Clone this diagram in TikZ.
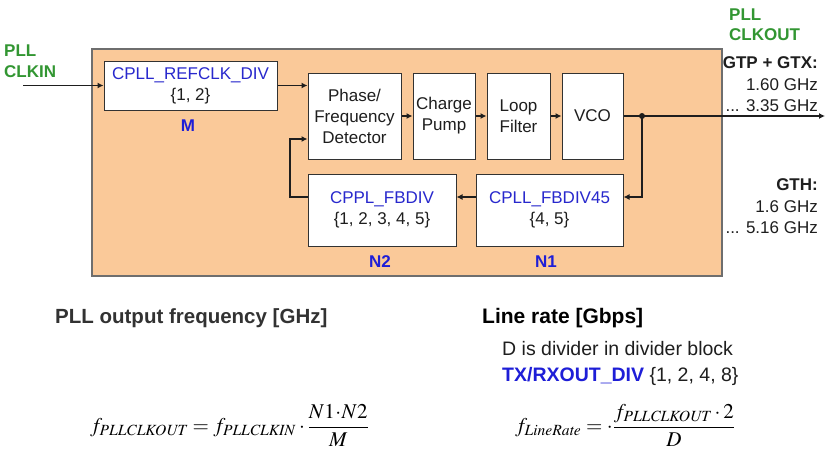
\documentclass[tikz,border=0pt]{standalone}
\usepackage{mathptmx}
\usepackage[no-math]{fontspec}
\setmainfont{Liberation Sans}
\usetikzlibrary{arrows.meta}
\definecolor{orfill}{RGB}{250,201,153}
\definecolor{orline}{RGB}{110,110,110}
\definecolor{boxline}{RGB}{50,50,50}
\definecolor{txt}{RGB}{30,30,30}
\definecolor{bl}{RGB}{40,40,205}
\definecolor{blb}{RGB}{30,30,215}
\definecolor{grn}{RGB}{50,150,50}
\definecolor{hdr}{RGB}{50,50,50}
\newcommand\blockfont{\fontsize{17}{21}\selectfont}
\newcommand\labfont{\fontsize{17}{21}\selectfont\bfseries}
\begin{document}
\begin{tikzpicture}[x=1pt,y=-1pt,
  blk/.style={draw=boxline, fill=white, line width=1pt, inner sep=0pt, align=center, font=\blockfont, text=txt},
  lab/.style={font=\labfont, text=blb, inner sep=0pt},
  ln/.style={line width=1.6pt, draw=txt},
  arr/.style={ln, -{Latex[length=6pt,width=6pt]}},
  side/.style={font=\blockfont, text=txt, inner sep=0pt},
]
\useasboundingbox (0,0) rectangle (829,461);
\fill[white] (0,0) rectangle (829,461);

% PLL area
\node[draw=orline, fill=orfill, line width=1.2pt, minimum width=630pt, minimum height=227pt, inner sep=0pt] (pll) at (407,162.5) {};

% blocks
\node[blk, minimum width=173pt, minimum height=49pt] (refdiv) at (190.5,85.5) {\textcolor{bl}{CPLL\_REFCLK\_DIV}\\\{1, 2\}};
\node[blk, minimum width=93pt, minimum height=86pt] (pfd) at (354.5,116) {Phase/\\Frequency\\Detector};
\node[blk, minimum width=62pt, minimum height=86pt] (cp) at (444,116) {Charge\\Pump};
\node[blk, minimum width=63pt, minimum height=86pt] (lf) at (518.5,116) {Loop\\Filter};
\node[blk, minimum width=61pt, minimum height=86pt] (vco) at (592.5,116) {VCO};
\node[blk, minimum width=148pt, minimum height=72pt] (fbdiv) at (382,210) {\textcolor{bl}{CPPL\_FBDIV}\\\{1, 2, 3, 4, 5\}};
\node[blk, minimum width=147pt, minimum height=72pt] (fbdiv45) at (549.5,210) {\textcolor{bl}{CPLL\_FBDIV45}\\\{4, 5\}};

% block labels
\node[lab] (m) at (188,126) {M};
\node[lab] (n2) at (380,262) {N2};
\node[lab] (n1) at (546,262) {N1};

% signal labels
\node[side, text=grn, font=\labfont, align=left, anchor=west] (clkin) at (4,61.5) {PLL\\CLKIN};
\node[side, text=grn, font=\fontsize{17}{19.5}\selectfont\bfseries, align=left, anchor=west] (clkout) at (729,24.5) {PLL\\CLKOUT};
\node[side, align=right, anchor=east, font=\fontsize{17}{21.5}\selectfont] (gtx) at (818,84.5) {\textbf{GTP + GTX:}\\1.60 GHz\\... 3.35 GHz};
\node[side, align=right, anchor=east, font=\fontsize{17}{21.5}\selectfont] (gth) at (818,206.5) {\textbf{GTH:}\\1.6 GHz\\... 5.16 GHz};

% connectors
\coordinate (in) at (23,85.5);
\draw[arr] (in) -- (refdiv.west);
\draw[arr] (refdiv.east) -- (refdiv.east -| pfd.west);
\draw[arr] (pfd.east) -- (cp.west);
\draw[arr] (cp.east) -- (lf.west);
\draw[arr] (lf.east) -- (vco.west);
\coordinate (dot) at (642,116);
\coordinate (out) at (825,116);
\draw[ln] (vco.east) -- (dot);
\draw[arr] (dot) -- (out);
\coordinate (fby) at (0,197);
\draw[arr] (dot) |- (fbdiv45.east |- fby);
\draw[arr] (fbdiv45.west |- fby) -- (fbdiv.east |- fby);
\coordinate (lx) at (290,139);
\draw[arr] (fbdiv.west |- fby) -| (lx) -- (pfd.west |- lx);
\fill[txt] (dot) circle (3pt);

% bottom texts
\node[anchor=west, inner sep=0pt, text=hdr, font=\fontsize{20.5}{24}\selectfont\bfseries] (h1) at (55,318) {PLL output frequency [GHz]};
\node[anchor=west, inner sep=0pt, text=black, font=\fontsize{21}{24}\selectfont\bfseries] (h2) at (482,318) {Line rate [Gbps]};
\node[anchor=west, inner sep=0pt, text=txt, font=\fontsize{19.5}{23}\selectfont] (d1) at (502,349) {D is divider in divider block};
\node[anchor=west, inner sep=0pt, text=txt, font=\fontsize{19.5}{23}\selectfont] (d2) at (502,376) {\textcolor{blb}{\textbf{TX/RXOUT\_DIV}} \{1, 2, 4, 8\}};

\node[anchor=base west, inner sep=0pt, text=black, font=\fontsize{21}{25}\selectfont] (f1) at (90,432.5)
  {$\displaystyle f_{\mathit{PLLCLKOUT}} = f_{\mathit{PLLCLKIN}}\cdot\frac{N1\!\cdot\! N2}{M}$};
\node[anchor=base west, inner sep=0pt, text=black, font=\fontsize{21}{25}\selectfont] (f2) at (515,432.5)
  {$\displaystyle f_{\mathit{LineRate}} = \cdot\frac{f_{\mathit{PLLCLKOUT}}\cdot 2}{D}$};
\end{tikzpicture}
\end{document}
